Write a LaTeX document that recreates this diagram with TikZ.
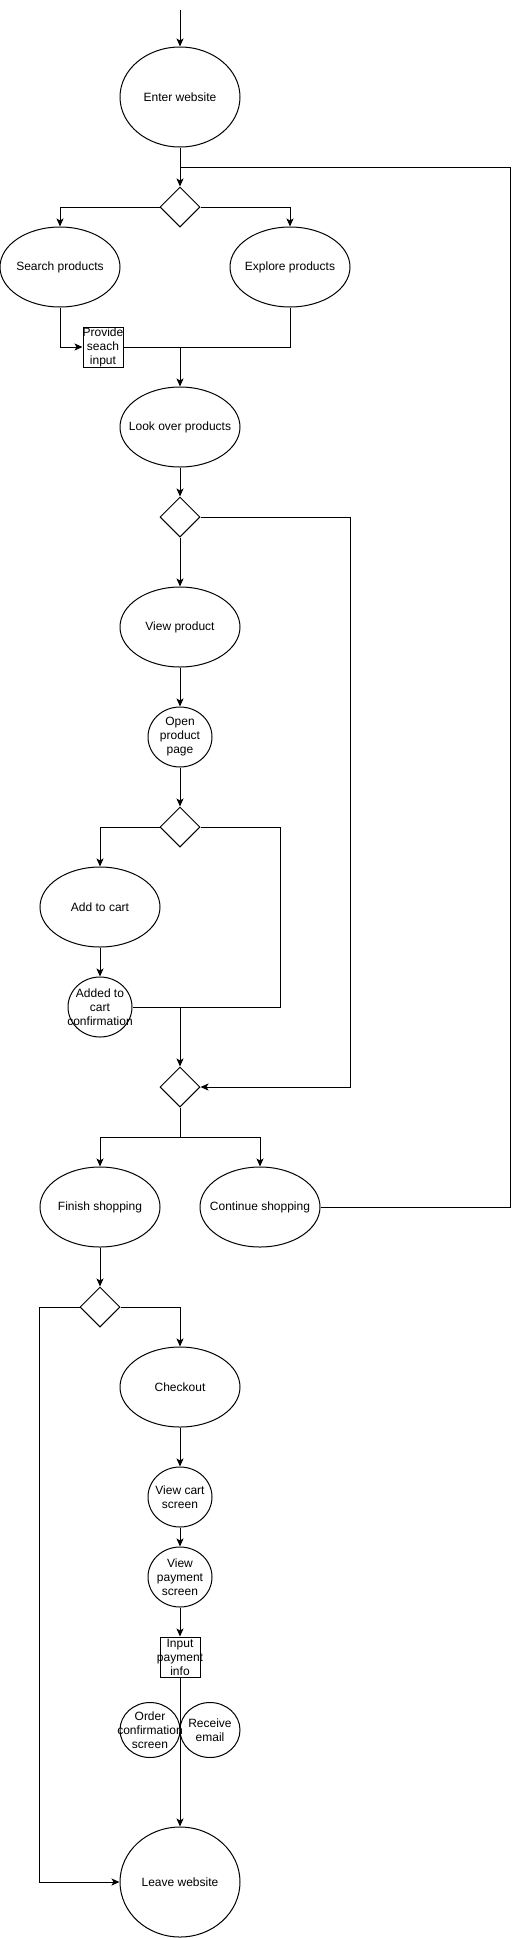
\documentclass[tikz,border=0pt]{standalone}
\usepackage{fontspec}
\setmainfont{Liberation Sans}
\usetikzlibrary{shapes.geometric, arrows.meta, calc}

\begin{document}
\begin{tikzpicture}[x=1pt, y=-1pt, line width=1pt,
    font=\fontsize{12pt}{14pt}\selectfont,
    state/.style={ellipse, draw, minimum width=120pt, minimum height=80pt,
                  inner sep=-30pt, align=center},
    small/.style={ellipse, draw, minimum width=64pt, minimum height=60pt,
                  inner sep=-30pt, align=center},
    choice/.style={diamond, draw, minimum width=40pt, minimum height=40pt,
                   inner sep=0pt},
    task/.style={rectangle, draw, minimum width=40pt, minimum height=40pt,
                 inner sep=-15pt, align=center},
    flow/.style={-{Stealth[length=8pt, width=7pt, inset=2pt]}}]

    \useasboundingbox (0,0) rectangle (519,1938);

    % Browsing
    \coordinate (start) at (180,10);
    \node[state, minimum height=100pt] (enter) at (180,97) {Enter website};
    \node[choice] (d1) at (180,207) {};
    \node[state] (search) at (60,267) {Search products};
    \node[state] (explore) at (290,267) {Explore products};
    \node[task] (input) at (103,347) {Provide\\seach\\input};
    \node[state] (look) at (180,427) {Look over products};
    \node[choice] (d2) at (180,517) {};
    \node[state] (view) at (180,627) {View product};
    \node[small] (open) at (180,737) {Open\\product\\page};
    \node[choice] (d3) at (180,827) {};
    \node[state] (add) at (100,907) {Add to cart};
    \node[small] (added) at (100,1007) {Added to\\cart\\confirmation};
    \node[choice] (d4) at (180,1087) {};
    \node[state] (finish) at (100,1207) {Finish shopping};
    \node[state] (cont) at (260,1207) {Continue shopping};

    % Checkout
    \node[choice] (d5) at (100,1307) {};
    \node[state] (checkout) at (180,1387) {Checkout};
    \node[small] (cart) at (180,1497) {View cart\\screen};
    \node[small] (pay) at (180,1577) {View\\payment\\screen};
    \node[task] (info) at (180,1657) {Input\\payment\\info};
    \node[small, minimum width=60pt, minimum height=55pt] (order) at (150,1730)
        {Order\\confirmation\\screen};
    \node[small, minimum width=60pt, minimum height=55pt] (email) at (210,1730)
        {Receive\\email};
    \node[state, minimum height=110pt] (leave) at (180,1882) {Leave website};

    % Arrows
    \draw[flow] (start) -- (enter);
    \draw[flow] (enter) -- (d1);
    \path (enter.south) -- (d1.north) coordinate[midway] (back);
    \draw[flow] (d1.west) -| (search.north);
    \draw[flow] (d1.east) -| (explore.north);
    \draw[flow] (search.south) |- (input.west);
    \draw (explore.south) |- (input.east);
    \draw[flow] (input.east -| look.north) -- (look.north);
    \draw[flow] (look) -- (d2);
    \draw[flow] (d2) -- (view);
    \draw[flow] (d2.east) -- ++(150,0) |- (d4.east);
    \draw[flow] (view) -- (open);
    \draw[flow] (open) -- (d3);
    \draw[flow] (d3.west) -| (add.north);
    \draw (d3.east) -- ++(80,0) |- (added.east);
    \draw[flow] (add) -- (added);
    \draw[flow] (added.east -| d4.north) -- (d4.north);
    \draw (d4.south) -- ++(0,30) coordinate (split);
    \draw[flow] (split) -| (finish.north);
    \draw[flow] (split) -| (cont.north);
    \draw (cont.east) -- ++(190,0) |- (back);
    \draw[flow] (finish) -- (d5);
    \draw[flow] (d5.east) -| (checkout.north);
    \draw[flow] (d5.west) -- ++(-40,0) |- (leave.west);
    \draw[flow] (checkout) -- (cart);
    \draw[flow] (cart) -- (pay);
    \draw[flow] (pay) -- (info);
    \draw[flow] (info) -- (leave);
\end{tikzpicture}
\end{document}
